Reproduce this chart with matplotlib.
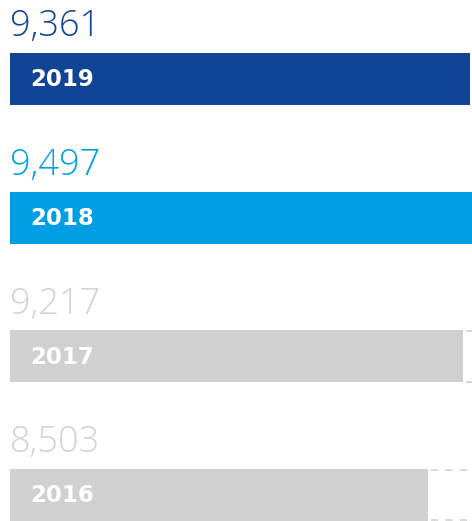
import matplotlib
matplotlib.use("Agg")
import matplotlib.pyplot as plt

years = ["2019", "2018", "2017", "2016"]
values = [9361, 9497, 9217, 8503]
bar_colors = ["#0f4496", "#009fe3", "#d0d0d0", "#d0d0d0"]
value_colors = ["#0f4496", "#009fe3", "#d3d3d3", "#d3d3d3"]

W, H, DPI = 472, 521, 100
fig = plt.figure(figsize=(W / DPI, H / DPI), dpi=DPI)
ax = fig.add_axes([0, 0, 1, 1])
ax.set_axis_off()

px_per_unit = 0.04916          # horizontal pixels per value unit
left_px = 10
slot_px = 138.67
first_center_px = 79
bar_h = 52 / slot_px
vmax = max(values)

ypos = list(range(len(years)))
ax.barh(ypos, values, height=bar_h, color=bar_colors, edgecolor="none")

for i, (yr, v) in enumerate(zip(years, values)):
    top = i - bar_h / 2
    bot = i + bar_h / 2
    # dashed guides out to the largest value
    if v < vmax:
        for yy in (top + 0.006, bot - 0.006):
            ax.plot([v + 60, vmax], [yy, yy], color="#d6d6d6", lw=1.3,
                    linestyle=(0, (4, 4)), solid_capstyle="butt")
    # value label above the bar
    ax.annotate(f"{v:,}", xy=(0, top), xytext=(0, 12), textcoords="offset points",
                ha="left", va="baseline", fontsize=26, family="Open Sans",
                fontweight="light", color=value_colors[i])
    # year inside the bar
    ax.annotate(yr, xy=(0, i), xytext=(14.5, -0.5), textcoords="offset points",
                ha="left", va="center", fontsize=16.5, family="DejaVu Sans",
                fontweight="bold", color="white")

# fix the view after all artists are added
ax.set_xlim(-left_px / px_per_unit, (W - left_px) / px_per_unit)
ax.set_ylim((H - first_center_px) / slot_px, -first_center_px / slot_px)

fig.savefig("out.png", dpi=DPI)
